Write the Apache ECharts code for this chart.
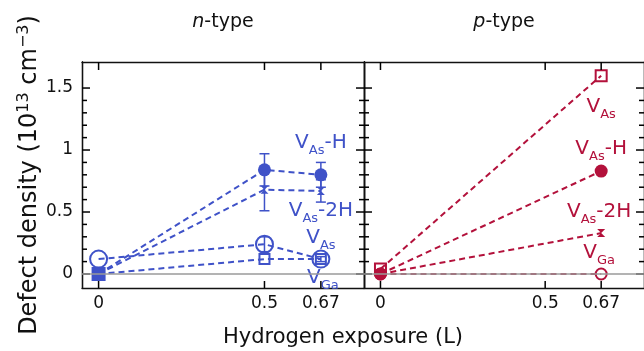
<!DOCTYPE html>
<html>
<head>
<meta charset="utf-8">
<script src="https://cdn.jsdelivr.net/npm/echarts@6/dist/echarts.min.js"></script>
<style>
  html, body { margin: 0; padding: 0; background: #fff; }
  #chart { width: 644px; height: 351px; }
</style>
</head>
<body>
<div id="chart"></div>
<script>
// exposures (L)
const xN = [0, 0.5, 0.67];
const xP = [0, 0.67];
const xTicks = [0, 0.5, 0.67];
const yTicks = [0, 0.5, 1, 1.5];
const yMinor = [0.1, 0.2, 0.3, 0.4, 0.6, 0.7, 0.8, 0.9, 1.1, 1.2, 1.3, 1.4];

// n-type defect densities (1e13 cm^-3)
const nVAsH = [0, 0.84, 0.80];
const nVAsHErr = [0, 0.13, 0.10];
const nVAs2H = [0, 0.68, 0.67];
const nVAs2HErr = [0, 0.17, 0.09];
const nVAs = [0.12, 0.24, 0.12];
const nVAsErr = [0, 0.06, 0.02];
const nVGa = [0, 0.12, 0.12];

// p-type defect densities
const pVAs = [0.04, 1.6];
const pVAsH = [0, 0.83];
const pVAs2H = [0, 0.33];
const pVGa = [0, 0];

const X_MIN = -0.05, X_MAX = 0.8;
const Y_MIN = -0.113, Y_MAX = 1.71;

const BLUE = '#3f52c8';
const RED = '#b3113b';
const INK = '#111';
const FONT = 'DejaVu Sans';
const BOWTIE = 'path://M0,0L10,0L0,10L10,10Z';

const labelRich = {
  v: { fontFamily: FONT, fontSize: 20, lineHeight: 28 },
  s: { fontFamily: FONT, fontSize: 13, lineHeight: 13, verticalAlign: 'bottom' }
};

function lineSeries(name, xs, ys, color, symbol, size, open, grid, labelText, offset) {
  const data = xs.map((x, i) => [x, ys[i]]);
  const last = data.length - 1;
  data[last] = {
    value: data[last],
    label: {
      show: true,
      position: 'inside',
      offset: offset,
      color: color,
      formatter: labelText,
      rich: labelRich
    }
  };
  return {
    name: name,
    type: 'line',
    xAxisIndex: grid * 2,
    yAxisIndex: grid * 4,
    data: data,
    symbol: symbol,
    symbolSize: size,
    showAllSymbol: true,
    z: 3,
    itemStyle: open
      ? { color: 'rgba(0,0,0,0)', borderColor: color, borderWidth: 2 }
      : { color: color, borderWidth: 0 },
    lineStyle: { color: color, width: 2, type: [6, 4] },
    label: { show: false },
    emphasis: { disabled: true },
    animation: false
  };
}

function errorSeries(xs, ys, errs, color, grid) {
  const data = [];
  xs.forEach((x, i) => {
    if (errs[i] > 0) data.push([x, ys[i] - errs[i], ys[i] + errs[i]]);
  });
  return {
    type: 'custom',
    xAxisIndex: grid * 2,
    yAxisIndex: grid * 4,
    data: data,
    encode: { x: 0, y: [1, 2] },
    z: 2,
    silent: true,
    animation: false,
    renderItem: function (params, api) {
      const lo = api.coord([api.value(0), api.value(1)]);
      const hi = api.coord([api.value(0), api.value(2)]);
      const w = 5;
      const st = { stroke: color, lineWidth: 1.5 };
      return {
        type: 'group',
        children: [
          { type: 'line', shape: { x1: lo[0], y1: lo[1], x2: hi[0], y2: hi[1] }, style: st },
          { type: 'line', shape: { x1: lo[0] - w, y1: lo[1], x2: lo[0] + w, y2: lo[1] }, style: st },
          { type: 'line', shape: { x1: hi[0] - w, y1: hi[1], x2: hi[0] + w, y2: hi[1] }, style: st }
        ]
      };
    }
  };
}

// inward ticks on all four sides of a panel (v6 hides value-axis ticks)
function xTickSeries(grid) {
  return {
    type: 'custom',
    xAxisIndex: grid * 2,
    yAxisIndex: grid * 4,
    data: xTicks.map(v => [v, 0.5]),
    encode: { x: 0, y: 1 },
    z: 4,
    animation: false,
    renderItem: function (params, api) {
      const v = api.value(0);
      const b = api.coord([v, Y_MIN]);
      const t = api.coord([v, Y_MAX]);
      const st = { stroke: '#000', lineWidth: 1.5 };
      return {
        type: 'group',
        children: [
          { type: 'line', shape: { x1: b[0], y1: b[1], x2: b[0], y2: b[1] - 7 }, style: st },
          { type: 'line', shape: { x1: t[0], y1: t[1], x2: t[0], y2: t[1] + 8 }, style: st }
        ]
      };
    }
  };
}

function yTickSeries(grid, values, len) {
  return {
    type: 'custom',
    xAxisIndex: grid * 2,
    yAxisIndex: grid * 4,
    data: values.map(v => [0.3, v]),
    encode: { x: 0, y: 1 },
    z: 4,
    animation: false,
    renderItem: function (params, api) {
      const v = api.value(1);
      const l = api.coord([X_MIN, v]);
      const r = api.coord([X_MAX, v]);
      const st = { stroke: '#000', lineWidth: 1.5 };
      return {
        type: 'group',
        children: [
          { type: 'line', shape: { x1: l[0], y1: l[1], x2: l[0] + len, y2: l[1] }, style: st },
          { type: 'line', shape: { x1: r[0], y1: r[1], x2: r[0] - len, y2: r[1] }, style: st }
        ]
      };
    }
  };
}

function zeroLine(grid) {
  return {
    type: 'line',
    xAxisIndex: grid * 2,
    yAxisIndex: grid * 4,
    data: [],
    z: 1,
    markLine: {
      silent: true,
      symbol: 'none',
      label: { show: false },
      lineStyle: { color: '#9a9a9a', width: 1.5, type: 'solid' },
      data: [{ yAxis: 0 }]
    }
  };
}

const axisLine = { show: true, onZero: false, lineStyle: { color: INK, width: 1.3 } };

function xAxes(grid) {
  const base = {
    type: 'value', gridIndex: grid, min: X_MIN, max: X_MAX,
    axisLine: axisLine, splitLine: { show: false }, axisTick: { show: false }
  };
  return [
    Object.assign({}, base, {
      position: 'bottom',
      axisLabel: {
        customValues: xTicks, margin: 7, color: INK, fontFamily: FONT, fontSize: 17,
        formatter: v => String(v)
      }
    }),
    Object.assign({}, base, { position: 'top', axisLabel: { show: false } })
  ];
}

function yAxes(grid) {
  const base = {
    type: 'value', gridIndex: grid, min: Y_MIN, max: Y_MAX,
    axisLine: axisLine, splitLine: { show: false }, axisTick: { show: false }
  };
  const list = [];
  ['left', 'right'].forEach(pos => {
    const isLabelled = grid === 0 && pos === 'left';
    list.push(Object.assign({}, base, {
      position: pos,
      axisLabel: isLabelled
        ? { customValues: yTicks, margin: 9, color: INK, fontFamily: FONT, fontSize: 17, formatter: v => String(v) }
        : { show: false },
      name: isLabelled ? '{t|Defect density (10}{u|13}{t| cm}{u|−3}{t|)}' : '',
      nameLocation: 'middle',
      nameGap: 32,
      nameRotate: 90,
      nameTextStyle: {
        color: INK,
        rich: {
          t: { fontFamily: FONT, fontSize: 24, lineHeight: 28, color: INK },
          u: { fontFamily: FONT, fontSize: 16, lineHeight: 16, verticalAlign: 'top', color: INK }
        }
      }
    }));
    list.push(Object.assign({}, base, { position: pos, axisLabel: { show: false } }));
  });
  return list;
}

const chart = echarts.init(document.getElementById('chart'), null, { renderer: 'canvas' });

const nGaSeries = lineSeries('n VGa', xN, nVGa, BLUE, 'rect', 10, true, 0, '{v|V}{s|Ga}', [2, 19]);
// the x=0 point reads as a filled square in the original
nGaSeries.data[0] = { value: nGaSeries.data[0], symbolSize: 12, itemStyle: { color: BLUE } };

const option = {
  backgroundColor: '#fff',
  animation: false,
  grid: [
    { left: 82, top: 62, width: 282, height: 226 },
    { left: 364, top: 62, width: 281, height: 226 }
  ],
  xAxis: xAxes(0).concat(xAxes(1)),
  yAxis: yAxes(0).concat(yAxes(1)),
  graphic: [
    {
      type: 'text', x: 223, y: 22,
      style: {
        text: '{i|n}{r|-type}', align: 'center', verticalAlign: 'middle',
        rich: {
          i: { fontFamily: FONT, fontStyle: 'italic', fontSize: 19, fill: INK },
          r: { fontFamily: FONT, fontSize: 19, fill: INK }
        }
      }
    },
    {
      type: 'text', x: 504, y: 22,
      style: {
        text: '{i|p}{r|-type}', align: 'center', verticalAlign: 'middle',
        rich: {
          i: { fontFamily: FONT, fontStyle: 'italic', fontSize: 19, fill: INK },
          r: { fontFamily: FONT, fontSize: 19, fill: INK }
        }
      }
    },
    {
      type: 'text', x: 343, y: 338,
      style: {
        text: 'Hydrogen exposure (L)', align: 'center', verticalAlign: 'middle',
        fontFamily: FONT, fontSize: 21, fill: INK
      }
    }
  ],
  series: [
    zeroLine(0),
    zeroLine(1),
    xTickSeries(0),
    xTickSeries(1),
    yTickSeries(0, yTicks, 8),
    yTickSeries(0, yMinor, 5),
    yTickSeries(1, yTicks, 8),
    yTickSeries(1, yMinor, 5),
    errorSeries(xN, nVAsH, nVAsHErr, BLUE, 0),
    errorSeries(xN, nVAs2H, nVAs2HErr, BLUE, 0),
    errorSeries(xN, nVAs, nVAsErr, BLUE, 0),
    nGaSeries,
    lineSeries('n VAs', xN, nVAs, BLUE, 'circle', 17, true, 0, '{v|V}{s|As}', [0, -21]),
    lineSeries('n VAs2H', xN, nVAs2H, BLUE, BOWTIE, 8, false, 0, '{v|V}{s|As}{v|-2H}', [0, 20]),
    lineSeries('n VAsH', xN, nVAsH, BLUE, 'circle', 13, false, 0, '{v|V}{s|As}{v|-H}', [0, -32]),
    lineSeries('p VGa', xP, pVGa, RED, 'circle', 11, true, 1, '{v|V}{s|Ga}', [-2, -21]),
    lineSeries('p VAs2H', xP, pVAs2H, RED, BOWTIE, 8, false, 1, '{v|V}{s|As}{v|-2H}', [-2, -21]),
    lineSeries('p VAsH', xP, pVAsH, RED, 'circle', 13, false, 1, '{v|V}{s|As}{v|-H}', [0, -22]),
    lineSeries('p VAs', xP, pVAs, RED, 'rect', 11, true, 1, '{v|V}{s|As}', [0, 31])
  ]
};

chart.setOption(option);
</script>
</body>
</html>
